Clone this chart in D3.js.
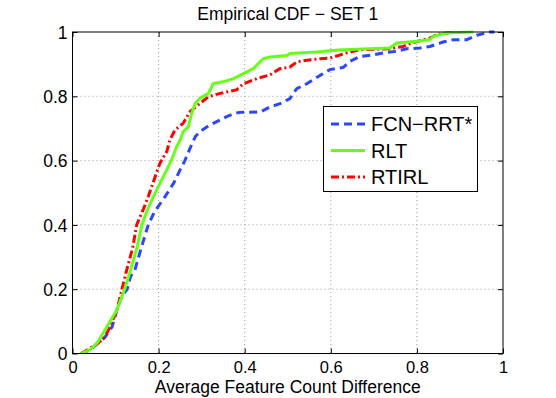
<!DOCTYPE html>
<html><head><meta charset="utf-8">
<script src="https://cdn.jsdelivr.net/npm/d3@7"></script>
<style>body{margin:0;background:#fff}svg{display:block}</style>
</head><body>
<script>
const xTicks = [0, 0.2, 0.4, 0.6, 0.8, 1];
const yTicks = [0, 0.2, 0.4, 0.6, 0.8, 1];
const xTickLabels = ["0", "0.2", "0.4", "0.6", "0.8", "1"];
const yTickLabels = ["0", "0.2", "0.4", "0.6", "0.8", "1"];
const seriesNames = ["FCN\u2212RRT*", "RLT", "RTIRL"];
const fcnX = [0.02,0.04,0.057,0.075,0.092,0.103,0.115,0.127,0.135,0.145,0.16,0.176,0.19,0.215,0.235,0.25,0.261,0.273,0.285,0.296,0.316,0.335,0.358,0.377,0.389,0.436,0.459,0.482,0.505,0.521,0.544,0.575,0.598,0.629,0.645,0.668,0.699,0.722,0.753,0.776,0.807,0.83,0.861,0.885,0.916,0.939,0.97,0.98];
const fcnY = [0,0.01,0.03,0.05,0.083,0.135,0.18,0.2,0.24,0.26,0.33,0.4,0.44,0.488,0.53,0.571,0.6,0.638,0.674,0.69,0.708,0.721,0.737,0.747,0.75,0.751,0.767,0.777,0.793,0.824,0.839,0.865,0.883,0.89,0.909,0.924,0.929,0.935,0.94,0.948,0.95,0.955,0.969,0.976,0.976,0.99,1.0,1.0];
const rltX = [0.02,0.04,0.057,0.08,0.103,0.121,0.135,0.15,0.161,0.175,0.188,0.207,0.219,0.23,0.242,0.25,0.257,0.269,0.277,0.285,0.296,0.316,0.327,0.35,0.374,0.405,0.42,0.443,0.459,0.498,0.505,0.567,0.598,0.629,0.737,0.753,0.8,0.83,0.838,0.869,0.931];
const rltY = [0,0.011,0.032,0.083,0.135,0.2,0.26,0.33,0.4,0.45,0.488,0.54,0.571,0.602,0.643,0.664,0.69,0.705,0.747,0.778,0.794,0.809,0.84,0.845,0.855,0.876,0.886,0.917,0.922,0.927,0.933,0.938,0.942,0.945,0.95,0.966,0.971,0.976,0.987,0.997,1.0];
const rtirlX = [0.02,0.034,0.057,0.075,0.087,0.103,0.115,0.126,0.14,0.149,0.165,0.176,0.192,0.203,0.219,0.226,0.238,0.257,0.273,0.296,0.316,0.343,0.381,0.397,0.428,0.459,0.482,0.505,0.521,0.544,0.575,0.598,0.637,0.668,0.737,0.768,0.788,0.807,0.83,0.846,0.869,0.888];
const rtirlY = [0,0.011,0.03,0.05,0.083,0.135,0.2,0.26,0.33,0.4,0.45,0.488,0.55,0.592,0.628,0.664,0.695,0.716,0.752,0.778,0.799,0.809,0.82,0.839,0.855,0.867,0.886,0.891,0.907,0.912,0.917,0.919,0.935,0.945,0.948,0.955,0.966,0.973,0.981,0.992,0.997,1.0];

const W = 556, H = 398;
const m = {l: 72.5, r: 503, t: 32, b: 353.5};
const font = "'Liberation Sans', Arial, Helvetica, sans-serif";
const svg = d3.select("body").append("svg").attr("width", W).attr("height", H)
  .style("font-family", font);
const x = d3.scaleLinear().domain([0, 1]).range([m.l, m.r]);
const y = d3.scaleLinear().domain([0, 1]).range([m.b, m.t]);

// grid
const g = svg.append("g");
g.selectAll(".gx").data(xTicks.slice(1, -1)).join("line")
  .attr("x1", d => x(d)).attr("x2", d => x(d)).attr("y1", m.t).attr("y2", m.b)
  .attr("stroke", "#999").attr("stroke-width", 1).attr("stroke-dasharray", "1,3");
g.selectAll(".gy").data(yTicks.slice(1, -1)).join("line")
  .attr("y1", d => y(d)).attr("y2", d => y(d)).attr("x1", m.l).attr("x2", m.r)
  .attr("stroke", "#999").attr("stroke-width", 1).attr("stroke-dasharray", "1,3");

// axes (inward ticks)
const ax = svg.append("g").attr("transform", `translate(0,${m.b})`)
  .call(d3.axisBottom(x).tickValues(xTicks).tickFormat((d, i) => xTickLabels[i]).tickSizeInner(-5).tickSizeOuter(0).tickPadding(8));
const ay = svg.append("g").attr("transform", `translate(${m.l},0)`)
  .call(d3.axisLeft(y).tickValues(yTicks).tickFormat((d, i) => yTickLabels[i]).tickSizeInner(-5).tickSizeOuter(0).tickPadding(5));
const axT = svg.append("g").attr("transform", `translate(0,${m.t})`)
  .call(d3.axisTop(x).tickValues(xTicks).tickFormat("").tickSizeInner(-5).tickSizeOuter(0));
const ayR = svg.append("g").attr("transform", `translate(${m.r},0)`)
  .call(d3.axisRight(y).tickValues(yTicks).tickFormat("").tickSizeInner(-5).tickSizeOuter(0));
[ax, ay, axT, ayR].forEach(a => {
  a.selectAll("path").remove();
  a.selectAll("line").attr("stroke", "#000");
  a.selectAll("text").attr("font-size", 16.5).attr("fill", "#000").style("font-family", font);
});
ay.selectAll("text").attr("font-size", 17.5).attr("dy", "0.35em");

// lines
const line = d3.line().x(d => x(d[0])).y(d => y(d[1]));
const series = [
  {name: seriesNames[0], xs: fcnX, ys: fcnY, color: "#2b47ff", dash: "8,5"},
  {name: seriesNames[1], xs: rltX, ys: rltY, color: "#66ff1a", dash: null},
  {name: seriesNames[2], xs: rtirlX, ys: rtirlY, color: "#ff0000", dash: "8,3,2,3"}
];
svg.append("clipPath").attr("id", "clip").append("rect")
  .attr("x", m.l).attr("y", m.t - 2).attr("width", m.r - m.l).attr("height", m.b - m.t + 2);
const drawOrder = [0, 2, 1];
drawOrder.forEach(i => {
  const s = series[i];
  const pts = s.xs.map((v, k) => [v, s.ys[k]]);
  svg.append("path").datum(pts).attr("d", line)
    .attr("fill", "none").attr("stroke", s.color).attr("stroke-width", 3)
    .attr("stroke-dasharray", s.dash).attr("stroke-linejoin", "round")
    .attr("clip-path", "url(#clip)");
});

// box
svg.append("rect").attr("x", m.l).attr("y", m.t).attr("width", m.r - m.l).attr("height", m.b - m.t)
  .attr("fill", "none").attr("stroke", "#000").attr("stroke-width", 1);

// title and label
svg.append("text").attr("x", (m.l + m.r) / 2).attr("y", 20).attr("text-anchor", "middle")
  .attr("font-size", 17.5).text("Empirical CDF \u2212 SET 1");
svg.append("text").attr("x", (m.l + m.r) / 2).attr("y", 393).attr("text-anchor", "middle")
  .attr("font-size", 17.5).text("Average Feature Count Difference");

// legend
const lg = svg.append("g");
lg.append("rect").attr("x", 323.5).attr("y", 106.5).attr("width", 154).attr("height", 85)
  .attr("fill", "#fff").attr("stroke", "#000").attr("stroke-width", 1);
series.forEach((s, i) => {
  const yy = 124 + i * 26.5;
  lg.append("line").attr("x1", 331).attr("x2", 365).attr("y1", yy).attr("y2", yy)
    .attr("stroke", s.color).attr("stroke-width", 3).attr("stroke-dasharray", s.dash);
  lg.append("text").attr("x", 371).attr("y", yy).attr("dy", "0.35em")
    .attr("font-size", 20).text(s.name);
});
</script>
</body></html>
